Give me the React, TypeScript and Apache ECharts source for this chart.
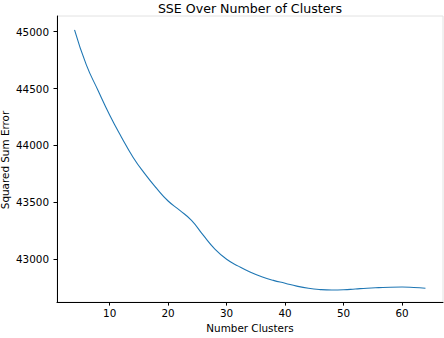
import React, { useEffect, useRef } from "react";
import * as echarts from "echarts";

const clusters = [4, 6, 8, 10, 12, 14, 16, 18, 20, 22, 24, 26, 28, 30, 32, 34, 36, 38, 40, 42, 44, 46, 48, 50, 52, 54, 56, 58, 60, 62, 64];
const sse = [45015, 44710, 44485, 44268, 44075, 43897, 43752, 43625, 43512, 43430, 43342, 43212, 43090, 43000, 42940, 42888, 42847, 42815, 42790, 42764, 42745, 42734, 42730, 42732, 42739, 42746, 42751, 42755, 42756, 42752, 42745];
const xTicks = [10, 20, 30, 40, 50, 60];
const yTicks = [43000, 43500, 44000, 44500, 45000];

export default function App() {
  const ref = useRef<HTMLDivElement>(null);
  useEffect(() => {
    if (!ref.current) return;
    const chart = echarts.init(ref.current, null, { renderer: "svg" });
    const font = "DejaVu Sans";
    chart.setOption({
      animation: false,
      textStyle: { fontFamily: font },
      title: {
        text: "SSE Over Number of Clusters",
        left: 250,
        top: 2,
        padding: 0,
        textAlign: "center",
        textStyle: { fontFamily: font, fontSize: 12.6, fontWeight: "normal", color: "#000" },
      },
      grid: {
        left: 57,
        right: 1,
        top: 16,
        bottom: 33,
        show: true,
        borderColor: "#e2e2e2",
        borderWidth: 1,
        backgroundColor: "transparent",
      },
      xAxis: {
        type: "value",
        min: 1,
        max: 67,
        name: "Number Clusters",
        nameLocation: "middle",
        nameGap: 20,
        nameTextStyle: { fontFamily: font, fontSize: 10.4, color: "#000" },
        splitLine: { show: false },
        axisLine: { show: true, lineStyle: { color: "#000", width: 1 } },
        axisTick: { show: true, length: 3.5, lineStyle: { color: "#000" }, customValues: xTicks },
        axisLabel: { fontFamily: font, fontSize: 10.4, color: "#000", margin: 6, customValues: xTicks, formatter: (v: number) => String(v) },
      },
      yAxis: {
        type: "value",
        min: 42624,
        max: 45137,
        splitLine: { show: false },
        axisLine: { show: true, lineStyle: { color: "#000", width: 1 } },
        axisTick: { show: true, length: 3.5, lineStyle: { color: "#000" }, customValues: yTicks },
        axisLabel: { fontFamily: font, fontSize: 10.4, color: "#000", margin: 8, customValues: yTicks, formatter: (v: number) => String(v) },
      },
      graphic: [
        {
          type: "text",
          x: 5,
          y: 160,
          rotation: Math.PI / 2,
          style: {
            text: "Squared Sum Error",
            fontFamily: font,
            fontSize: 10.4,
            fill: "#000",
            align: "center",
            verticalAlign: "middle",
          },
        },
      ],
      series: [
        {
          type: "line",
          data: clusters.map((c, i) => [c, sse[i]]),
          smooth: 0.5,
          showSymbol: false,
          lineStyle: { color: "#1f77b4", width: 1.1 },
          itemStyle: { color: "#1f77b4" },
        },
      ],
    });
    return () => chart.dispose();
  }, []);
  return <div ref={ref} style={{ width: 444, height: 338, position: "absolute", left: 0, top: 0 }} />;
}
